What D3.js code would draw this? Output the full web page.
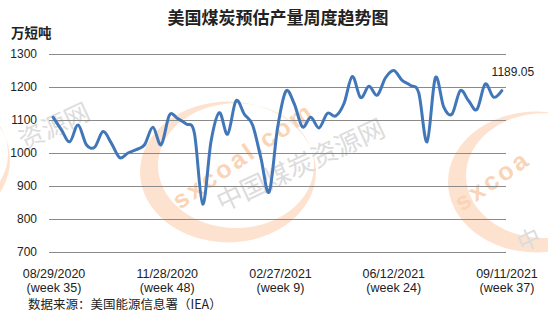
<!DOCTYPE html>
<html>
<head>
<meta charset="utf-8">
<script src="https://cdn.jsdelivr.net/npm/d3@7/dist/d3.min.js"></script>
<style>
  body { margin: 0; background: #fff; }
  svg { display: block; }
  text { font-family: "Liberation Sans", Arial, sans-serif; }
  .cjk { font-family: "Noto Sans CJK SC", sans-serif; }
</style>
</head>
<body>
<div id="chart"></div>
<script>
// data (万短吨, weekly, week 35 of 2020 .. week 37 of 2021)
var title = "美国煤炭预估产量周度趋势图";
var unitLabel = "万短吨";
var sourceNote = "数据来源：美国能源信息署（IEA）";
var production = [
  1108, 1070, 1034, 1085, 1025, 1018, 1065, 1030, 986, 1000,
  1010, 1025, 1078, 1025, 1115, 1104, 1088, 1060, 845, 1035,
  1122, 1057, 1158, 1118, 1085, 985, 882, 1075, 1187, 1150,
  1079, 1108, 1076, 1120, 1112, 1150, 1232, 1168, 1202, 1175,
  1228, 1250, 1220, 1205, 1182, 1034, 1228, 1140, 1118, 1189,
  1158, 1132, 1209, 1169, 1189.05
];
var dateLabels = ["08/29/2020", "11/28/2020", "02/27/2021", "06/12/2021", "09/11/2021"];
var weekLabels = ["(week 35)", "(week 48)", "(week 9)", "(week 24)", "(week 37)"];
var yTicks = [700, 800, 900, 1000, 1100, 1200, 1300];

var weeks = production.map((d, i) => d3.timeWeek.offset(new Date(2020, 7, 29), i));

var width = 548;
var height = 329;
var margin = { top: 54, right: 42, bottom: 77, left: 49 };

var svg = d3
  .select("#chart")
  .append("svg")
  .attr("width", width)
  .attr("height", height);

//******************
// watermark
//******************
var wm = svg.append("g").attr("class", "watermark");

function crescent(cx, cy) {
  var p = d3.path();
  p.arc(0, 0, 88, 0, 2 * Math.PI);
  p.moveTo(8 + 78, -8);
  p.arc(8, -8, 78, 0, 2 * Math.PI);
  wm.append("path")
    .attr("d", p.toString())
    .attr("fill-rule", "evenodd")
    .attr("fill", "#fde3cf")
    .attr("transform", `translate(${cx},${cy}) scale(1,0.8)`);
}
function logoText(tx, ty, s) {
  wm.append("text")
    .attr("transform", `translate(${tx},${ty}) rotate(-35)`)
    .attr("font-size", 25)
    .attr("font-weight", "bold")
    .attr("letter-spacing", 3)
    .attr("fill", "#fad4b6")
    .text(s);
}
function grayText(tx, ty, s, size) {
  wm.append("text")
    .attr("class", "cjk")
    .attr("transform", `translate(${tx},${ty}) rotate(-25)`)
    .attr("font-size", size)
    .attr("fill", "#dcdcdc")
    .text(s);
}
crescent(228, 172);
logoText(180, 210, "sxcoal.com");
grayText(222, 212, "中国煤炭资源网", 26);

crescent(-78, 160);
grayText(24, 150, "资源网", 25);

crescent(536, 182);
logoText(462, 212, "sxcoa");
grayText(522, 252, "中", 23);

//******************
// scales
//******************
var x = d3
  .scalePoint()
  .domain(d3.range(production.length))
  .range([margin.left, width - margin.right])
  .padding(0.5);
var y = d3
  .scaleLinear()
  .domain([700, 1300])
  .range([height - margin.bottom, margin.top]);
var xLab = d3
  .scalePoint()
  .domain(dateLabels)
  .range([margin.left + 5, width - margin.right + 1]);

// gridlines + y labels
svg
  .append("g")
  .attr("transform", `translate(${margin.left},0)`)
  .call(
    d3.axisLeft(y)
      .tickValues(yTicks)
      .tickFormat(d3.format("d"))
      .tickSize(-(width - margin.left - margin.right))
      .tickPadding(12)
  )
  .call((g) => g.select(".domain").remove())
  .call((g) => g.selectAll(".tick line").attr("stroke", "#8a8a8a"))
  .call((g) =>
    g.selectAll(".tick text")
      .attr("font-size", 12)
      .attr("fill", "#222")
      .attr("font-family", "Liberation Sans, Arial, sans-serif")
  );

// x labels (two lines)
var xl = svg
  .append("g")
  .selectAll("text")
  .data(dateLabels)
  .join("text")
  .attr("x", (d) => xLab(d))
  .attr("y", 278)
  .attr("text-anchor", "middle")
  .attr("font-size", 12.5)
  .attr("fill", "#222");
xl.append("tspan").attr("x", (d) => xLab(d)).text((d) => d);
xl.append("tspan")
  .attr("x", (d) => xLab(d))
  .attr("dy", 14)
  .text((d, i) => weekLabels[i]);

// line
var line = d3
  .line()
  .x((d, i) => x(i))
  .y((d) => y(d))
  .curve(d3.curveCardinal.tension(0));

svg
  .append("path")
  .datum(production)
  .attr("d", line)
  .attr("fill", "none")
  .attr("stroke", "#4177b9")
  .attr("stroke-width", 3)
  .attr("stroke-linejoin", "round")
  .attr("stroke-linecap", "round");

// last value label
var last = production.length - 1;
svg
  .append("text")
  .attr("x", x(last) + 11)
  .attr("y", y(production[last]) - 15)
  .attr("text-anchor", "middle")
  .attr("font-size", 12)
  .attr("fill", "#222")
  .text(d3.format(".2f")(production[last]));

// titles
svg
  .append("text")
  .attr("class", "cjk")
  .attr("x", 278)
  .attr("y", 24)
  .attr("text-anchor", "middle")
  .attr("font-size", 17)
  .attr("font-weight", "bold")
  .attr("fill", "#222")
  .text(title);

svg
  .append("text")
  .attr("class", "cjk")
  .attr("x", 11)
  .attr("y", 38)
  .attr("font-size", 13.5)
  .attr("font-weight", "bold")
  .attr("fill", "#222")
  .text(unitLabel);

svg
  .append("text")
  .attr("class", "cjk")
  .attr("x", 28)
  .attr("y", 309)
  .attr("font-size", 12.5)
  .attr("fill", "#222")
  .text(sourceNote);
</script>
</body>
</html>
